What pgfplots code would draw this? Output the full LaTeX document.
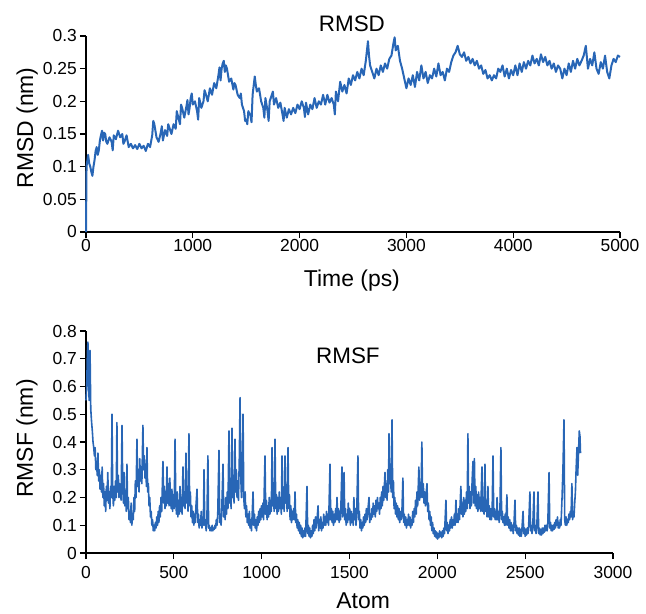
\documentclass[border=0pt]{standalone}
\usepackage{pgfplots}
\pgfplotsset{compat=1.18}
\usepackage{fontspec}
\setmainfont{Liberation Sans}
\definecolor{lineblue}{RGB}{40,102,182}
\pgfplotsset{
  myaxis/.style={
    scale only axis,
    axis x line=bottom, axis y line=left,
    axis line style={-, black, line width=1.2bp},
    tick align=outside,
    major tick length=6bp,
    tick style={black, line width=1.2bp},
    /pgf/number format/assume math mode=true,
    /pgf/number format/1000 sep={},
    scaled x ticks=false, scaled y ticks=false,
    tick label style={font=\fontsize{17.5}{20}\selectfont, inner sep=0pt},
    label style={font=\fontsize{23}{27}\selectfont},
    title style={font=\fontsize{22.5}{26}\selectfont},
    yticklabel style={/pgf/number format/fixed, /pgf/number format/precision=2, anchor=east, xshift=-3bp},
    xticklabel style={anchor=north, yshift=-1bp},
    clip=false,
  }
}
\begin{document}
\begin{tikzpicture}
\useasboundingbox (0,0) rectangle (646bp,614bp);
\begin{axis}[myaxis,
  at={(86bp,382bp)}, anchor=south west,
  width=534bp, height=196bp,
  xmin=0, xmax=5000, ymin=0, ymax=0.3,
  xtick={0,1000,...,5000},
  ytick={0,0.05,0.1,0.15,0.2,0.25,0.3},
  title={RMSD}, title style={at={(axis description cs:0.498,1.03)}, anchor=center},
  xlabel={Time (ps)}, xlabel style={at={(axis description cs:0.498,-0.28)}, anchor=base},
  ylabel={RMSD (nm)}, ylabel style={at={(axis description cs:-0.099,0.531)}, anchor=base, rotate=0},
]
\addplot[lineblue, line width=2bp, line join=round] table {
0 0
5 0.10
20 0.118
30 0.105
40 0.10
50 0.092
60 0.086
70 0.1
80 0.11
90 0.124
100 0.13
110 0.118
120 0.125
130 0.14
140 0.148
150 0.155
160 0.14
170 0.152
180 0.15
190 0.138
200 0.135
220 0.145
240 0.138
250 0.125
260 0.148
280 0.142
300 0.155
310 0.15
320 0.145
340 0.15
350 0.135
360 0.138
380 0.148
400 0.13
420 0.135
440 0.128
460 0.133
480 0.127
500 0.135
520 0.128
540 0.132
560 0.124
580 0.135
600 0.13
620 0.148
630 0.17
640 0.165
660 0.145
680 0.138
700 0.152
710 0.162
720 0.14
740 0.156
760 0.147
770 0.165
780 0.16
800 0.15
820 0.165
840 0.158
850 0.185
860 0.178
880 0.165
890 0.195
900 0.19
920 0.175
940 0.192
950 0.202
960 0.18
970 0.19
980 0.205
990 0.212
1000 0.195
1020 0.2
1040 0.185
1050 0.172
1060 0.205
1080 0.19
1100 0.2
1110 0.217
1120 0.212
1140 0.2
1160 0.22
1180 0.21
1200 0.228
1220 0.22
1240 0.24
1250 0.252
1260 0.232
1270 0.25
1280 0.258
1290 0.262
1300 0.245
1310 0.255
1320 0.25
1340 0.23
1360 0.235
1380 0.218
1390 0.228
1400 0.225
1420 0.21
1440 0.205
1450 0.212
1460 0.195
1480 0.185
1490 0.17
1500 0.172
1510 0.165
1520 0.185
1540 0.178
1550 0.168
1560 0.21
1580 0.238
1590 0.225
1600 0.215
1620 0.22
1640 0.2
1660 0.19
1670 0.175
1680 0.205
1700 0.185
1710 0.17
1720 0.2
1740 0.21
1750 0.215
1760 0.195
1780 0.205
1800 0.19
1820 0.198
1840 0.18
1850 0.17
1860 0.19
1880 0.175
1900 0.188
1920 0.18
1940 0.19
1960 0.182
1980 0.195
2000 0.188
2020 0.2
2040 0.19
2050 0.176
2060 0.198
2080 0.18
2100 0.195
2120 0.188
2140 0.205
2160 0.19
2180 0.2
2200 0.195
2220 0.21
2240 0.195
2260 0.21
2280 0.198
2300 0.205
2320 0.195
2330 0.18
2340 0.215
2360 0.2
2380 0.23
2400 0.215
2420 0.225
2440 0.212
2460 0.235
2480 0.225
2500 0.24
2520 0.232
2540 0.245
2560 0.235
2580 0.25
2600 0.24
2620 0.262
2640 0.292
2650 0.27
2660 0.255
2680 0.245
2700 0.235
2720 0.25
2740 0.24
2760 0.255
2780 0.245
2800 0.258
2820 0.25
2840 0.265
2860 0.27
2880 0.29
2890 0.298
2900 0.278
2920 0.285
2940 0.262
2960 0.25
2980 0.235
3000 0.22
3020 0.235
3040 0.225
3060 0.24
3080 0.222
3100 0.245
3120 0.232
3140 0.255
3160 0.235
3180 0.245
3200 0.228
3220 0.24
3240 0.235
3260 0.25
3280 0.238
3300 0.258
3320 0.24
3340 0.245
3360 0.232
3380 0.25
3400 0.245
3420 0.26
3440 0.27
3460 0.275
3480 0.285
3500 0.272
3520 0.268
3540 0.275
3560 0.262
3580 0.268
3600 0.258
3620 0.265
3640 0.255
3660 0.262
3680 0.25
3700 0.255
3720 0.242
3740 0.248
3760 0.235
3780 0.24
3800 0.232
3820 0.24
3840 0.235
3860 0.25
3880 0.245
3900 0.255
3920 0.238
3940 0.25
3960 0.235
3980 0.248
4000 0.24
4020 0.255
4040 0.24
4060 0.258
4080 0.245
4100 0.26
4120 0.25
4140 0.262
4160 0.255
4180 0.27
4200 0.258
4220 0.265
4240 0.255
4260 0.272
4280 0.26
4300 0.268
4320 0.255
4340 0.262
4360 0.25
4380 0.258
4400 0.245
4420 0.255
4440 0.25
4460 0.235
4480 0.25
4500 0.24
4520 0.258
4540 0.245
4560 0.262
4580 0.25
4600 0.265
4620 0.255
4640 0.262
4660 0.27
4680 0.285
4700 0.25
4720 0.265
4740 0.255
4760 0.275
4780 0.25
4800 0.242
4820 0.26
4840 0.25
4860 0.27
4880 0.245
4900 0.235
4920 0.255
4940 0.265
4960 0.26
4980 0.27
5000 0.268
};
\end{axis}
\begin{axis}[myaxis,
  at={(86bp,61bp)}, anchor=south west,
  width=527bp, height=222bp,
  xmin=0, xmax=3000, ymin=0, ymax=0.8,
  xtick={0,500,...,3000},
  ytick={0,0.1,...,0.8},
  title={RMSF}, title style={at={(axis description cs:0.497,0.86)}, anchor=center},
  xlabel={Atom}, xlabel style={at={(axis description cs:0.526,-0.252)}, anchor=base},
  ylabel={RMSF (nm)}, ylabel style={at={(axis description cs:-0.1006,0.516)}, anchor=base, rotate=0},
  xticklabel style={yshift=-6bp},
]
\addplot[lineblue, line width=1.6bp, line join=round] table {
0 0.55
4 0.6
8 0.72
11 0.76
14 0.62
18 0.55
23 0.73
27 0.52
32 0.47
36 0.44
40 0.40
44 0.38
48 0.35
52 0.38
56 0.30
60 0.33
64 0.28
68 0.36
72 0.26
76 0.30
80 0.23
84 0.28
88 0.22
92 0.31
96 0.2
100 0.25
104 0.17
108 0.22
112 0.15
116 0.24
120 0.19
124 0.29
128 0.18
132 0.22
136 0.16
140 0.24
144 0.2
148 0.50
152 0.22
156 0.17
160 0.24
164 0.19
168 0.26
172 0.2
176 0.47
180 0.22
184 0.28
188 0.2
192 0.25
196 0.22
200 0.19
205 0.46
209 0.24
213 0.18
217 0.29
221 0.17
225 0.22
229 0.15
233 0.32
237 0.16
241 0.2
245 0.12
249 0.15
253 0.11
257 0.18
261 0.1
265 0.14
269 0.12
273 0.2
277 0.15
281 0.26
285 0.2
290 0.41
294 0.24
298 0.3
302 0.22
306 0.34
310 0.26
314 0.31
318 0.25
324 0.46
328 0.3
332 0.35
336 0.27
340 0.32
344 0.24
347 0.38
351 0.22
355 0.25
359 0.17
363 0.2
367 0.13
371 0.15
375 0.1
379 0.12
383 0.08
387 0.1
391 0.08
395 0.11
399 0.09
403 0.13
407 0.1
411 0.15
415 0.11
419 0.17
423 0.13
427 0.2
431 0.15
438 0.33
442 0.18
446 0.24
450 0.16
454 0.22
457 0.17
461 0.31
465 0.18
469 0.25
473 0.17
477 0.27
481 0.2
485 0.16
489 0.23
493 0.15
497 0.21
502 0.16
507 0.41
511 0.19
515 0.14
519 0.22
523 0.13
527 0.19
531 0.14
535 0.24
539 0.15
543 0.2
547 0.14
552 0.31
556 0.17
560 0.22
564 0.16
569 0.36
573 0.18
577 0.24
581 0.15
586 0.43
590 0.17
594 0.22
598 0.13
602 0.17
606 0.11
610 0.15
614 0.1
618 0.14
622 0.11
626 0.17
632 0.23
636 0.11
640 0.14
644 0.09
648 0.12
652 0.1
656 0.15
660 0.09
664 0.12
668 0.1
672 0.30
676 0.1
680 0.12
684 0.08
688 0.11
694 0.35
698 0.09
702 0.1
706 0.08
710 0.09
714 0.08
718 0.1
722 0.08
726 0.09
730 0.085
734 0.1
738 0.09
742 0.12
746 0.1
750 0.14
757 0.37
761 0.11
765 0.14
769 0.1
773 0.16
780 0.32
784 0.13
788 0.17
792 0.12
796 0.2
800 0.14
804 0.22
808 0.16
814 0.44
818 0.18
822 0.26
826 0.16
831 0.45
835 0.2
839 0.28
843 0.18
848 0.41
852 0.22
856 0.3
860 0.2
864 0.26
868 0.19
873 0.35
877 0.56
881 0.28
885 0.2
889 0.26
894 0.50
898 0.2
902 0.16
906 0.22
910 0.13
914 0.17
918 0.11
922 0.14
926 0.1
930 0.15
934 0.09
938 0.12
942 0.08
946 0.14
951 0.22
955 0.1
959 0.14
963 0.09
967 0.12
971 0.08
975 0.13
979 0.1
983 0.15
987 0.11
991 0.16
995 0.12
999 0.17
1003 0.13
1007 0.18
1011 0.12
1019 0.35
1023 0.14
1027 0.19
1031 0.12
1035 0.17
1039 0.13
1043 0.2
1047 0.14
1051 0.19
1055 0.15
1059 0.38
1063 0.17
1067 0.22
1071 0.15
1076 0.41
1080 0.16
1084 0.21
1088 0.14
1092 0.2
1096 0.15
1100 0.22
1104 0.16
1108 0.2
1112 0.14
1116 0.35
1120 0.16
1124 0.2
1128 0.15
1133 0.35
1137 0.18
1141 0.22
1145 0.15
1150 0.38
1154 0.16
1158 0.21
1162 0.12
1166 0.17
1170 0.11
1174 0.15
1178 0.12
1182 0.16
1186 0.12
1190 0.22
1194 0.11
1198 0.14
1202 0.09
1206 0.12
1210 0.08
1214 0.11
1218 0.07
1222 0.1
1226 0.06
1230 0.09
1234 0.055
1238 0.08
1242 0.06
1246 0.09
1250 0.06
1258 0.24
1262 0.07
1266 0.1
1270 0.06
1274 0.09
1278 0.055
1282 0.08
1286 0.06
1290 0.1
1294 0.07
1298 0.12
1302 0.08
1306 0.13
1310 0.09
1314 0.11
1321 0.17
1325 0.08
1329 0.12
1333 0.09
1337 0.13
1341 0.08
1345 0.11
1349 0.09
1353 0.14
1357 0.1
1361 0.13
1365 0.1
1369 0.15
1373 0.11
1377 0.14
1381 0.1
1389 0.32
1393 0.12
1397 0.16
1401 0.11
1405 0.15
1409 0.1
1413 0.14
1417 0.11
1421 0.16
1425 0.12
1429 0.2
1433 0.12
1437 0.16
1441 0.11
1445 0.15
1449 0.12
1457 0.31
1461 0.13
1465 0.17
1469 0.29
1473 0.12
1477 0.16
1481 0.1
1485 0.14
1489 0.11
1493 0.18
1497 0.12
1501 0.16
1505 0.1
1509 0.15
1513 0.11
1517 0.14
1521 0.1
1525 0.2
1529 0.12
1533 0.16
1537 0.1
1541 0.14
1548 0.35
1552 0.12
1556 0.15
1560 0.09
1564 0.12
1568 0.08
1572 0.11
1576 0.09
1580 0.13
1584 0.1
1588 0.14
1592 0.11
1596 0.16
1600 0.12
1604 0.15
1611 0.2
1615 0.11
1619 0.14
1623 0.12
1627 0.16
1631 0.13
1635 0.18
1639 0.14
1643 0.17
1647 0.13
1651 0.19
1655 0.15
1659 0.2
1663 0.16
1667 0.18
1671 0.14
1675 0.2
1679 0.16
1683 0.22
1687 0.17
1691 0.24
1695 0.19
1702 0.29
1706 0.2
1710 0.25
1714 0.19
1718 0.3
1722 0.22
1725 0.43
1729 0.25
1733 0.32
1737 0.22
1742 0.48
1746 0.2
1750 0.26
1754 0.16
1758 0.2
1762 0.14
1766 0.18
1770 0.13
1774 0.17
1778 0.12
1782 0.16
1786 0.11
1790 0.15
1794 0.12
1798 0.14
1804 0.27
1808 0.11
1812 0.14
1816 0.1
1820 0.13
1824 0.09
1828 0.12
1832 0.1
1836 0.14
1840 0.1
1844 0.13
1848 0.09
1852 0.12
1856 0.1
1860 0.15
1864 0.11
1868 0.16
1872 0.13
1876 0.19
1880 0.14
1884 0.22
1888 0.17
1895 0.31
1899 0.19
1903 0.25
1907 0.2
1912 0.40
1916 0.2
1920 0.25
1924 0.18
1928 0.22
1932 0.17
1936 0.21
1941 0.25
1945 0.15
1949 0.18
1953 0.12
1957 0.15
1961 0.1
1965 0.13
1969 0.08
1973 0.11
1977 0.07
1981 0.09
1985 0.06
1989 0.08
1993 0.055
1997 0.075
2001 0.05
2005 0.07
2009 0.055
2013 0.08
2017 0.06
2021 0.075
2025 0.055
2029 0.08
2033 0.06
2037 0.09
2041 0.07
2049 0.19
2053 0.08
2057 0.11
2061 0.07
2065 0.1
2069 0.08
2073 0.12
2077 0.09
2081 0.13
2085 0.09
2089 0.12
2093 0.1
2097 0.14
2101 0.1
2106 0.19
2110 0.11
2114 0.14
2118 0.11
2122 0.16
2126 0.12
2134 0.24
2138 0.14
2142 0.18
2146 0.13
2150 0.2
2154 0.14
2158 0.19
2162 0.15
2166 0.22
2170 0.16
2174 0.43
2178 0.18
2182 0.24
2186 0.16
2190 0.22
2194 0.17
2198 0.26
2203 0.33
2207 0.18
2211 0.34
2215 0.17
2219 0.24
2223 0.16
2227 0.21
2231 0.15
2235 0.22
2239 0.16
2243 0.2
2247 0.15
2254 0.31
2258 0.15
2262 0.2
2266 0.14
2271 0.32
2275 0.15
2279 0.19
2283 0.13
2288 0.24
2292 0.13
2296 0.17
2300 0.12
2304 0.16
2308 0.12
2312 0.15
2317 0.35
2321 0.13
2325 0.16
2329 0.12
2333 0.15
2337 0.12
2340 0.2
2344 0.12
2348 0.15
2352 0.11
2356 0.14
2362 0.38
2366 0.12
2370 0.15
2374 0.11
2378 0.13
2382 0.1
2386 0.14
2390 0.1
2396 0.21
2400 0.1
2404 0.13
2408 0.09
2412 0.12
2416 0.08
2420 0.11
2424 0.08
2428 0.1
2432 0.07
2436 0.1
2442 0.19
2446 0.08
2450 0.1
2454 0.07
2458 0.09
2462 0.065
2466 0.09
2470 0.06
2474 0.085
2478 0.06
2482 0.09
2488 0.15
2492 0.07
2496 0.09
2500 0.06
2504 0.085
2508 0.065
2512 0.09
2516 0.07
2520 0.1
2527 0.22
2531 0.08
2535 0.1
2539 0.07
2543 0.09
2550 0.22
2554 0.08
2558 0.1
2562 0.07
2566 0.09
2573 0.22
2577 0.07
2581 0.09
2585 0.065
2589 0.085
2593 0.065
2597 0.09
2601 0.07
2605 0.09
2609 0.075
2613 0.1
2617 0.08
2621 0.1
2625 0.08
2629 0.11
2636 0.29
2640 0.09
2644 0.11
2648 0.08
2652 0.1
2656 0.08
2660 0.1
2664 0.085
2668 0.11
2672 0.09
2676 0.12
2680 0.1
2684 0.13
2688 0.09
2692 0.11
2696 0.09
2700 0.12
2704 0.1
2710 0.2
2715 0.3
2721 0.48
2725 0.12
2729 0.1
2733 0.13
2737 0.1
2741 0.12
2745 0.11
2749 0.14
2753 0.12
2757 0.15
2761 0.13
2766 0.25
2770 0.12
2774 0.15
2778 0.13
2782 0.18
2786 0.22
2790 0.3
2795 0.38
2799 0.28
2803 0.35
2808 0.44
2812 0.42
2815 0.36
};
\end{axis}
\end{tikzpicture}
\end{document}
